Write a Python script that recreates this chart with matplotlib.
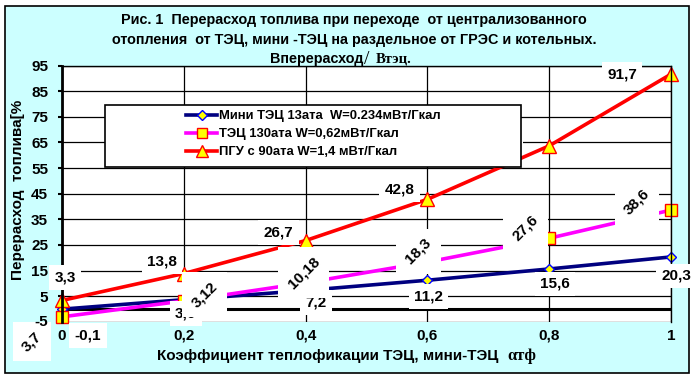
import matplotlib
matplotlib.use("Agg")
import matplotlib.pyplot as plt
from matplotlib.lines import Line2D
from matplotlib.patches import Rectangle
from matplotlib.transforms import IdentityTransform

# ---- data ----
x_vals = [0, 0.2, 0.4, 0.6, 0.8, 1.0]
x_ticklabels = ["0", "0,2", "0,4", "0,6", "0,8", "1"]
y_ticks = [-5, 5, 15, 25, 35, 45, 55, 65, 75, 85, 95]

mini_vals = [-0.1, 3.6, 7.2, 11.2, 15.6, 20.3]
mini_labels = ["-0,1", "3,6", "7,2", "11,2", "15,6", "20,3"]

tec_vals = [-3.1, 3.12, 10.18, 18.3, 27.6, 38.6]
tec_labels = ["3,7", "3,12", "10,18", "18,3", "27,6", "38,6"]

pgu_vals = [3.3, 13.8, 26.7, 42.8, 63.7, 91.7]
pgu_labels = ["3,3", "13,8", "26,7", "42,8", "63,7", "91,7"]

legend_names = [
    "Мини ТЭЦ 13ата  W=0.234мВт/Гкал",
    "ТЭЦ 130ата W=0,62мВт/Гкал",
    "ПГУ с 90ата W=1,4 мВт/Гкал",
]

W, H = 696, 379
SANS = "Liberation Sans"
SERIF = "Liberation Serif"

fig = plt.figure(figsize=(W / 100, H / 100), dpi=100, facecolor="white")

# outer cyan frame (behind the axes)
fig.patches.append(Rectangle((5 / W, 1 - 373 / H), 684 / W, 367 / H,
                             transform=fig.transFigure, facecolor="#CCFFFF",
                             edgecolor="black", lw=1.2, zorder=-10))

ax = fig.add_axes([62 / W, 1 - 321.7 / H, 609 / W, 256 / H])
ax.set_facecolor("white")
ax.set_xlim(0, 1)
ax.set_ylim(-5, 95)

ax.set_xticks(x_vals)
ax.set_xticklabels(x_ticklabels)
ax.set_yticks(y_ticks)
# lowest y label is drawn separately so it sits above the label box at x=0
ax.set_yticklabels([""] + [str(t) for t in y_ticks[1:]])
for lab in ax.get_xticklabels() + ax.get_yticklabels():
    lab.set_fontfamily(SANS)
    lab.set_fontweight("bold")
    lab.set_fontsize(11)
ax.tick_params(axis="x", length=0, pad=5)
ax.tick_params(axis="y", direction="out", length=3, width=1.5, pad=7)
ax.annotate(str(y_ticks[0]), (0, y_ticks[0]), xytext=(-14, 0), textcoords="offset pixels",
            ha="right", va="center", fontfamily=SANS, fontweight="bold", fontsize=11,
            zorder=6, annotation_clip=False)

ax.grid(True, color="black", lw=0.9, zorder=0.5)
ax.set_axisbelow(True)
for s in ("top", "right"):
    ax.spines[s].set_linewidth(1)
ax.spines["bottom"].set_visible(False)
ax.spines["left"].set_linewidth(2)
ax.axhline(0, color="black", lw=2.2, zorder=1)

series = [
    (mini_vals, mini_labels, "#000080", "D", "#0000FF", 5.5),
    (tec_vals, tec_labels, "#FF00FF", "s", "#FF0000", 8),
    (pgu_vals, pgu_labels, "#FF0000", "^", "#FF0000", 9.5),
]

# label offsets (pixels, from the point) per series
offsets = [
    [(26, -26), (2, -14), (10, -12), (1, -16), (6, -15), (5, -19)],
    [(-30, -25), (21, 6), (-2, 10), (-9, 11), (-24, 10), (-34, 8)],
    [(3, 23), (-22, 12), (-27, 8), (-28, 10), (-46, 6), (-49, 0)],
]
rotations = [0, 45, 0]
label_z = [3, 3.6, 4]

rotated = []
handles = []
for (vals, labels, col, mk, mec, ms), offs, rot, lz in zip(series, offsets, rotations, label_z):
    ax.plot(x_vals, vals, color=col, lw=2.6, zorder=2, solid_capstyle="butt")
    ax.plot(x_vals, vals, ls="none", marker=mk, ms=ms, mfc="#FFFF00",
            mec=mec, mew=1, zorder=2.5, clip_on=False)
    for xv, v, t, (dx, dy) in zip(x_vals, vals, labels, offs):
        box = None if rot else dict(boxstyle="square,pad=0.35", fc="white", ec="none")
        a = ax.annotate(t, (xv, v), xytext=(dx, dy), textcoords="offset pixels",
                        ha="center", va="center", rotation=rot,
                        rotation_mode="anchor",
                        fontfamily=SANS, fontweight="bold", fontsize=11,
                        bbox=box, zorder=lz, annotation_clip=False)
        if rot:
            rotated.append(a)
    handles.append(Line2D([], [], color=col, lw=2.6, marker=mk, ms=ms * 0.9,
                          mfc="#FFFF00", mec=mec, mew=1))

# rotated labels get an upright white box, as in the spreadsheet chart
fig.canvas.draw()
renderer = fig.canvas.get_renderer()
for a in rotated:
    bb = a.get_window_extent(renderer)
    p = 7
    ax.add_patch(Rectangle((bb.x0 - p, bb.y0 - p), bb.width + 2 * p, bb.height + 2 * p,
                           transform=IdentityTransform(), facecolor="white",
                           edgecolor="none", zorder=3.5, clip_on=False))

# legend box with empty left part
fig.patches.append(Rectangle((105 / W, 1 - 167 / H), 416 / W, 62 / H,
                             transform=fig.transFigure, facecolor="white",
                             edgecolor="black", lw=1.2, zorder=6))
leg = fig.legend(handles, legend_names, loc="upper left",
                 bbox_to_anchor=(177 / W, 1 - 101 / H), frameon=False,
                 handlelength=2.4, handletextpad=0.1, labelspacing=0.45,
                 borderpad=0.2, prop=dict(family=SANS, weight="bold", size=9.4))
leg.set_zorder(7)

# title
tkw = dict(ha="center", va="center", fontfamily=SANS, fontweight="bold", fontsize=10.4)
fig.text(354 / W, 1 - 20 / H, "Рис. 1  Перерасход топлива при переходе  от централизованного", **tkw)
fig.text(354 / W, 1 - 40 / H, "отопления  от ТЭЦ, мини -ТЭЦ на раздельное от ГРЭС и котельных.", **tkw)
fig.text(363 / W, 1 - 59 / H, "Вперерасход", ha="right", va="center",
         fontfamily=SANS, fontweight="bold", fontsize=10.4)
fig.text(364 / W, 1 - 59 / H, "/", ha="left", va="center",
         fontfamily=SERIF, fontsize=14)
fig.text(376 / W, 1 - 59 / H, "Втэц.", ha="left", va="center",
         fontfamily=SERIF, fontweight="bold", fontsize=10.5)

# axis titles
fig.text(18 / W, 1 - 190 / H, "Перерасход  топлива[%", rotation=90,
         ha="center", va="center", fontfamily=SANS, fontweight="bold", fontsize=11)
fig.text(498 / W, 1 - 356 / H, "Коэффициент теплофикации ТЭЦ, мини-ТЭЦ",
         ha="right", va="center", fontfamily=SANS, fontweight="bold", fontsize=11)
fig.text(507 / W, 1 - 356 / H, "αтф", ha="left", va="center",
         fontfamily=SERIF, fontweight="bold", fontsize=12)

fig.savefig("out.png", dpi=100, facecolor="white")
